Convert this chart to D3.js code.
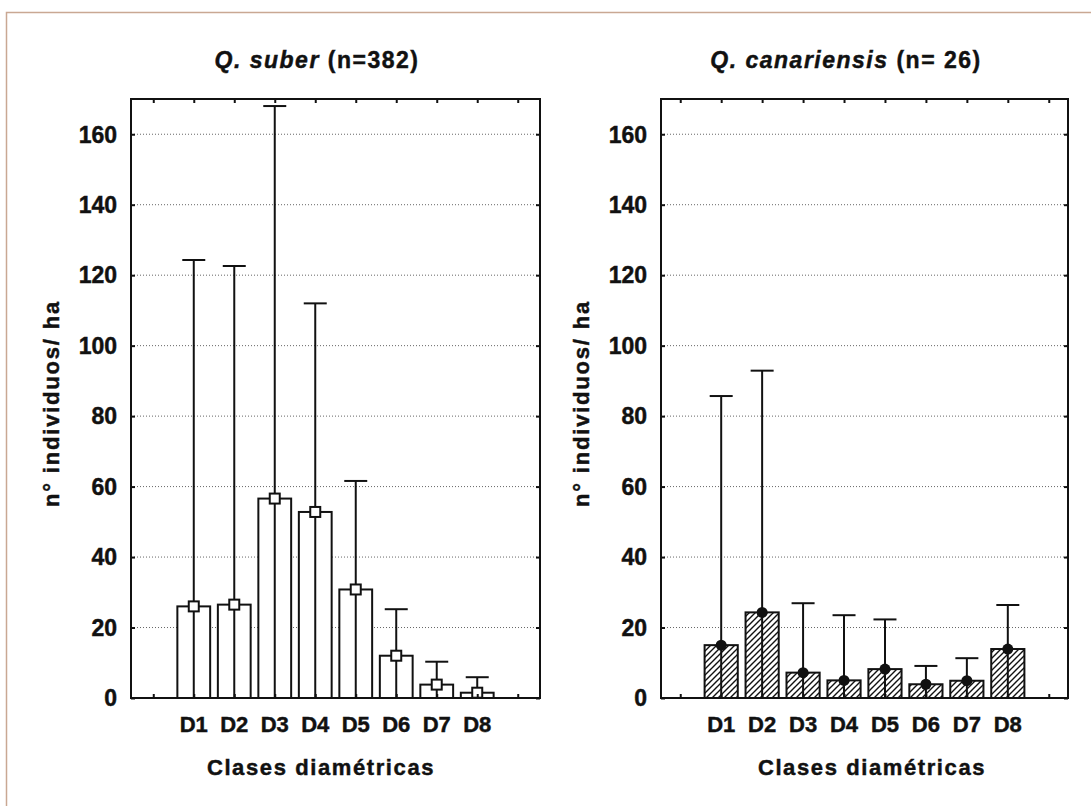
<!DOCTYPE html>
<html><head><meta charset="utf-8">
<script src="https://cdn.jsdelivr.net/npm/d3@7"></script>
<style>
html,body{margin:0;padding:0;background:#fff;}
text{font-family:"Liberation Sans",Arial,sans-serif;font-weight:bold;fill:#111;stroke:#111;stroke-width:0.45px;}
</style></head>
<body>
<svg id="chart" width="1091" height="806"></svg>
<script>
// ---- data ----
const categories = ["D1","D2","D3","D4","D5","D6","D7","D8"];
const suberMeans = [26, 26.5, 56.6, 52.8, 30.8, 12, 3.8, 1.5];
const suberUpper = [124.3, 122.6, 168, 112, 61.6, 25.2, 10.3, 5.9];
const canMeans   = [15, 24.3, 7.2, 5, 8.2, 3.9, 4.9, 13.9];
const canUpper   = [85.7, 92.9, 26.9, 23.5, 22.3, 9.1, 11.3, 26.4];
const yTicks = [0, 20, 40, 60, 80, 100, 120, 140, 160];
const yMax = 170;
const titles = [["Q. suber", " (n=382)"], ["Q. canariensis", " (n= 26)"]];
const xTitle = "Clases diamétricas";
const yTitle = "n° individuos/ ha";

// ---- layout ----
const svg = d3.select("#chart");
svg.append("rect").attr("x",6.5).attr("y",12.5).attr("width",1200).attr("height",900)
   .attr("fill","none").attr("stroke","#c9a893").attr("stroke-width",1.5);

const defs = svg.append("defs");
const pat = defs.append("pattern").attr("id","hatch").attr("patternUnits","userSpaceOnUse")
  .attr("width",6).attr("height",6);
pat.append("rect").attr("width",6).attr("height",6).attr("fill","#fff");
pat.append("path").attr("d","M-1,1 l2,-2 M0,6 l6,-6 M5,7 l2,-2")
  .attr("stroke","#111").attr("stroke-width",1.4);

const panels = [
  {left:131, right:540, pad:0.55, means:suberMeans, upper:suberUpper, marker:"square", fill:"#fff", titleX:317, xTitleX:321},
  {left:661, right:1068, pad:0.47, means:canMeans, upper:canUpper, marker:"dot", fill:"url(#hatch)", titleX:846, xTitleX:872}
];
const plotTop = 99, plotBottom = 698;

panels.forEach((p, pi) => {
  const slots = ["_a", ...categories, "_b"];
  const x = d3.scalePoint().domain(slots).range([p.left, p.right]).padding(p.pad);
  const y = d3.scaleLinear().domain([0, yMax]).range([plotBottom, plotTop]);
  const step = x.step();
  const bw = step * 0.81;
  const g = svg.append("g");

  // gridlines
  g.selectAll(".grid").data(yTicks.filter(t => t > 0)).join("line")
    .attr("x1", p.left).attr("x2", p.right)
    .attr("y1", d => y(d)).attr("y2", d => y(d))
    .attr("stroke","#666").attr("stroke-width",1).attr("stroke-dasharray","1,2");

  const data = categories.map((c,i) => ({c, m:p.means[i], u:p.upper[i]}));

  // bars
  g.selectAll(".bar").data(data).join("rect")
    .attr("x", d => x(d.c) - bw/2).attr("width", bw)
    .attr("y", d => y(d.m)).attr("height", d => y(0) - y(d.m))
    .attr("fill", p.fill).attr("stroke","#111").attr("stroke-width",2);

  // error bars
  g.selectAll(".err").data(data).join("line")
    .attr("x1", d => x(d.c)).attr("x2", d => x(d.c))
    .attr("y1", d => y(d.u)).attr("y2", y(0))
    .attr("stroke","#111").attr("stroke-width",2);
  g.selectAll(".cap").data(data).join("line")
    .attr("x1", d => x(d.c) - 11.5).attr("x2", d => x(d.c) + 11.5)
    .attr("y1", d => y(d.u)).attr("y2", d => y(d.u))
    .attr("stroke","#111").attr("stroke-width",2);

  // markers
  if (p.marker === "square") {
    g.selectAll(".mk").data(data).join("rect")
      .attr("x", d => x(d.c) - 5).attr("y", d => y(d.m) - 5)
      .attr("width",10).attr("height",10)
      .attr("fill","#fff").attr("stroke","#111").attr("stroke-width",2);
  } else {
    g.selectAll(".mk").data(data).join("circle")
      .attr("cx", d => x(d.c)).attr("cy", d => y(d.m)).attr("r",5.5)
      .attr("fill","#111");
  }

  // axes (inward ticks)
  const yl = g.append("g").attr("transform",`translate(${p.left},0)`)
    .call(d3.axisRight(y).tickValues(yTicks).tickSize(4).tickFormat(""));
  const yr = g.append("g").attr("transform",`translate(${p.right},0)`)
    .call(d3.axisLeft(y).tickValues(yTicks).tickSize(4).tickFormat(""));
  const xt = g.append("g").attr("transform",`translate(0,${plotTop})`)
    .call(d3.axisBottom(x).tickSize(4).tickFormat(""));
  const xb = g.append("g").attr("transform",`translate(0,${plotBottom})`)
    .call(d3.axisTop(x).tickSize(4).tickFormat(""));
  [yl,yr,xt,xb].forEach(a => {
    a.select(".domain").remove();
    a.selectAll("line").attr("stroke","#111").attr("stroke-width",2);
  });

  // frame
  g.append("rect").attr("x",p.left).attr("y",plotTop)
    .attr("width",p.right-p.left).attr("height",plotBottom-plotTop)
    .attr("fill","none").attr("stroke","#111").attr("stroke-width",2);

  // tick labels
  g.selectAll(".yl").data(yTicks).join("text")
    .attr("x", p.left - 14).attr("y", d => y(d)).attr("dy","0.36em")
    .attr("text-anchor","end").style("font-size","23px")
    .text(d => d);
  g.selectAll(".xl").data(categories).join("text")
    .attr("x", d => x(d)).attr("y", 732)
    .attr("text-anchor","middle").style("font-size","22px")
    .text(d => d);

  // titles
  const t = g.append("text").attr("x", p.titleX).attr("y", 68).attr("text-anchor","middle")
    .style("font-size","23px").style("letter-spacing","1.5px");
  t.append("tspan").style("font-style","italic").text(titles[pi][0]);
  t.append("tspan").text(titles[pi][1]);

  g.append("text").attr("x", p.xTitleX).attr("y", 775).attr("text-anchor","middle")
    .style("font-size","22px").style("letter-spacing","1.6px").text(xTitle);

  g.append("text").attr("transform",`translate(${p.left - 72},${(plotTop+plotBottom)/2+5}) rotate(-90)`)
    .attr("text-anchor","middle").style("font-size","22px").style("letter-spacing","1.8px")
    .text(yTitle);
});
</script>
</body></html>
